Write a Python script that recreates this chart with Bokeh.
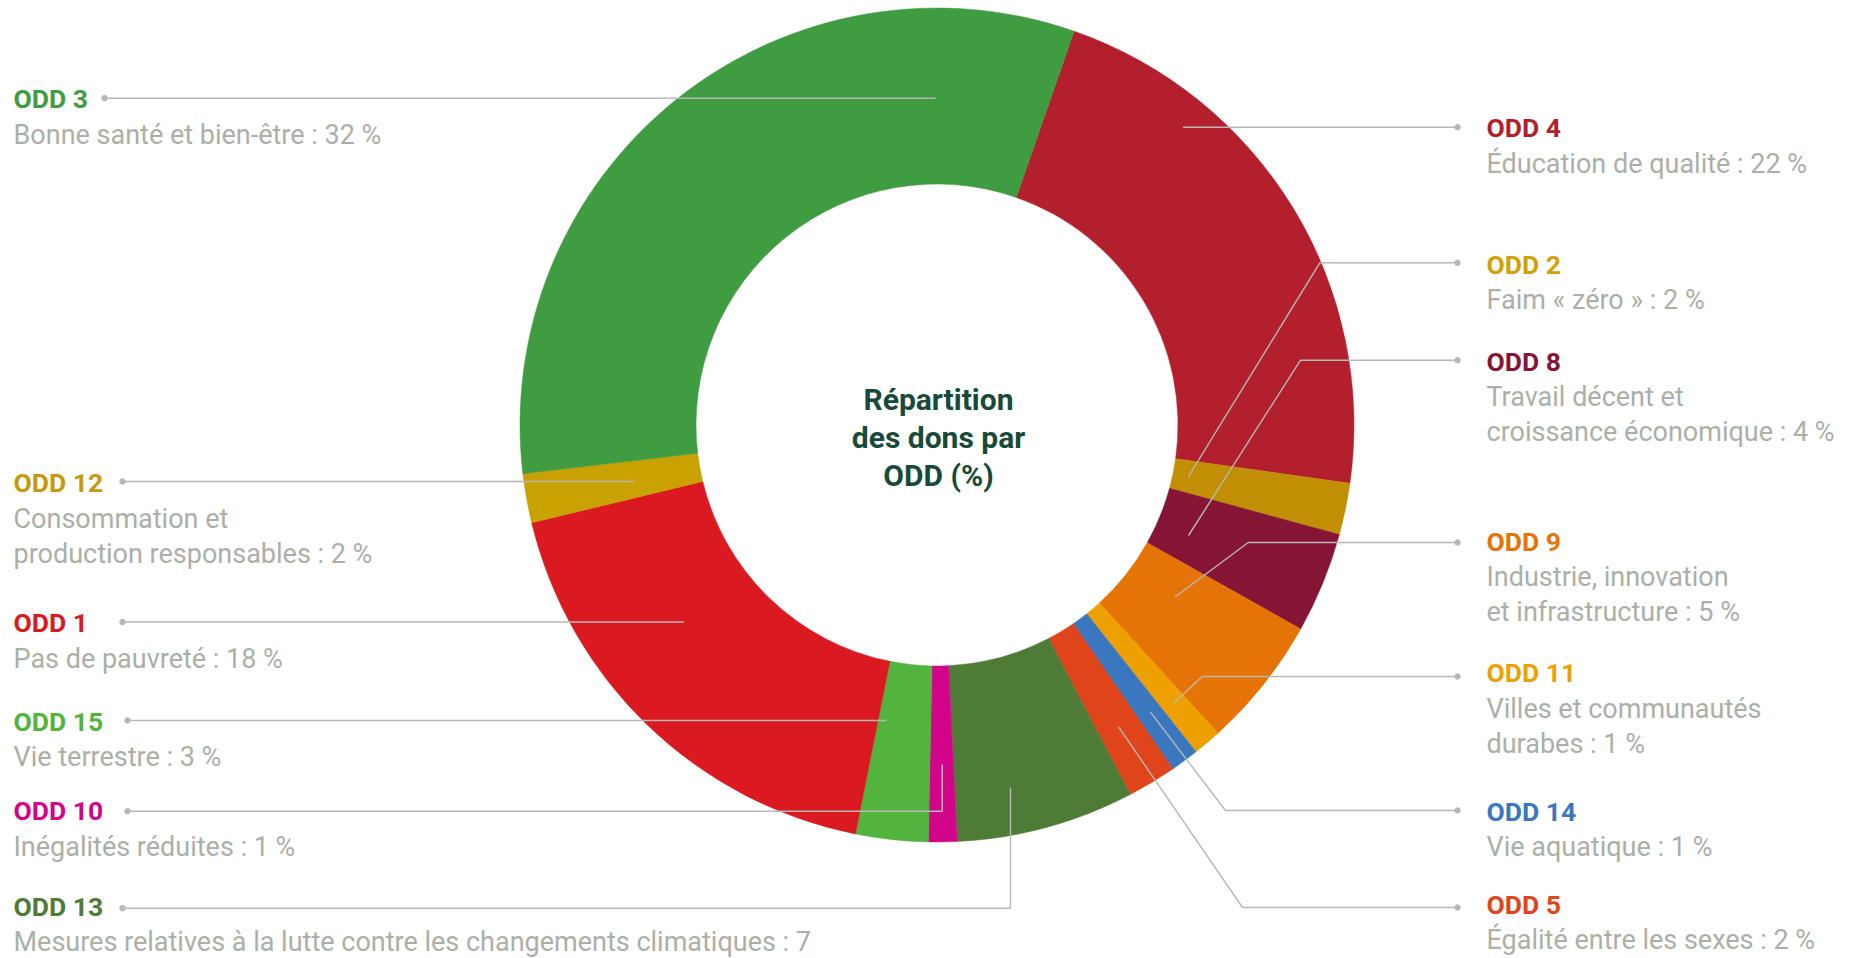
import math
from bokeh.plotting import figure
from bokeh.models import Range1d
from bokeh.embed import file_html
from bokeh.resources import INLINE
from bokeh.core.properties import value

# ---------------- data (clockwise order around the ring) ----------------
goals = ["ODD 4", "ODD 2", "ODD 8", "ODD 9", "ODD 11", "ODD 14", "ODD 5",
         "ODD 13", "ODD 10", "ODD 15", "ODD 1", "ODD 12", "ODD 3"]
shares = [21.9, 2.0, 3.9, 5.1, 1.1, 1.1, 1.9, 6.9, 1.1, 2.8, 18.1, 1.9, 32.2]
label_lines = [
    ["Éducation de qualité : 22 %"],
    ["Faim « zéro » : 2 %"],
    ["Travail décent et", "croissance économique : 4 %"],
    ["Industrie, innovation", "et infrastructure : 5 %"],
    ["Villes et communautés", "durabes : 1 %"],
    ["Vie aquatique : 1 %"],
    ["Égalité entre les sexes : 2 %"],
    ["Mesures relatives à la lutte contre les changements climatiques : 7"],
    ["Inégalités réduites : 1 %"],
    ["Vie terrestre : 3 %"],
    ["Pas de pauvreté : 18 %"],
    ["Consommation et", "production responsables : 2 %"],
    ["Bonne santé et bien-être : 32 %"],
]
colors = ["#b31f2c", "#c28e03", "#861535", "#e67305", "#ee9f02", "#3b77bf", "#df441b",
          "#4e7b35", "#d2048a", "#52b33e", "#da1a20", "#c9a100", "#3f9c41"]
name_colors = ["#b31f2c", "#d1a207", "#861535", "#e67305", "#ee9f02", "#3b77bf", "#df441b",
               "#4e7b35", "#d2048a", "#52b33e", "#da1a20", "#c8980c", "#3f9c41"]
title_lines = ["Répartition", "des dons par", "ODD (%)"]

# ---------------- layout (screen pixels, styles) ----------------
W, H = 1851, 958
CX, CY = 936.5, 424.5
R_OUT, R_IN = 417, 241
START_DEG = 19.2          # clockwise from 12 o'clock
LEFT_X, RIGHT_X = 13, 1486
FIRST_STEP = 36.0
LINE_STEP = 34.8
TEXT_SHIFT = -9.5         # renderer offset correction

# side, baseline of goal name, connector polyline (dot end first)
layout = [
    ("R", 136.7, [(1457, 126.7), (1182.7, 126.7)]),
    ("R", 273.3, [(1457, 262.3), (1319.3, 262.3), (1188, 476)]),
    ("R", 370.0, [(1457, 359.7), (1300, 359.7), (1188, 535)]),
    ("R", 550.0, [(1457, 542), (1247.7, 542), (1174.3, 596.7)]),
    ("R", 681.7, [(1457, 676), (1201.7, 676), (1173.3, 702.7)]),
    ("R", 820.0, [(1457, 810), (1225, 810), (1150, 711.7)]),
    ("R", 913.3, [(1457, 907), (1242, 907), (1118.3, 726.7)]),
    ("L", 915.0, [(122, 907.7), (1010, 907.7), (1010, 787)]),
    ("L", 819.5, [(127, 810.7), (941.7, 810.7), (941.7, 764)]),
    ("L", 730.0, [(127, 720), (886, 720)]),
    ("L", 631.7, [(122, 621.5), (683.5, 621.5)]),
    ("L", 491.7, [(122, 481), (634, 481)]),
    ("L", 107.7, [(104, 97.7), (935, 97.7)]),
]

FONT = value("Roboto")
DESC_COLOR = "#abafa8"
LINE_COLOR = "#b6b9b3"


def Y(y):
    return H - y


p = figure(width=W, height=H, output_backend="svg", toolbar_location=None,
           x_range=Range1d(0, W), y_range=Range1d(0, H),
           x_axis_location=None, y_axis_location=None)
p.min_border = 0
p.min_border_left = p.min_border_right = p.min_border_top = p.min_border_bottom = 0
p.grid.visible = False
p.outline_line_color = None
p.background_fill_color = "white"
p.border_fill_color = "white"

# ---------------- ring ----------------
total = sum(shares)
starts, ends = [], []
acc = START_DEG
for s in shares:
    a0 = acc
    a1 = acc + s / total * 360.0
    starts.append(math.radians(90 - a0))
    ends.append(math.radians(90 - a1))
    acc = a1

p.annular_wedge(x=[CX] * len(shares), y=[Y(CY)] * len(shares),
                inner_radius=R_IN, outer_radius=R_OUT,
                start_angle=starts, end_angle=ends, direction="clock",
                fill_color=colors, line_color=colors, line_width=0.5)

# ---------------- connectors ----------------
for side, base, pts in layout:
    p.line([q[0] for q in pts], [Y(q[1]) for q in pts],
           line_color=LINE_COLOR, line_width=1.4)
    p.scatter([pts[0][0]], [Y(pts[0][1])], size=5.5,
              fill_color=LINE_COLOR, line_color=LINE_COLOR)

# ---------------- labels ----------------
for i, (side, base, pts) in enumerate(layout):
    x = LEFT_X if side == "L" else RIGHT_X
    p.text(x=[x], y=[Y(base + TEXT_SHIFT)], text=[goals[i]], text_font=FONT,
           text_font_size="26.5px", text_font_style="bold",
           text_color=name_colors[i], text_baseline="alphabetic", text_align="left")
    for k, ln in enumerate(label_lines[i]):
        p.text(x=[x], y=[Y(base + TEXT_SHIFT + FIRST_STEP + LINE_STEP * k)], text=[ln],
               text_font=FONT, text_font_size="27px", text_color=DESC_COLOR,
               text_baseline="alphabetic", text_align="left")

# ---------------- centre title ----------------
for k, t in enumerate(title_lines):
    p.text(x=[CX + 1.5], y=[Y(399 + 37.8 * k)], text=[t], text_font=FONT,
           text_font_size="30px", text_font_style="bold", text_color="#184a3a",
           text_baseline="alphabetic", text_align="center")

open("out.html", "w").write(file_html(p, INLINE))
